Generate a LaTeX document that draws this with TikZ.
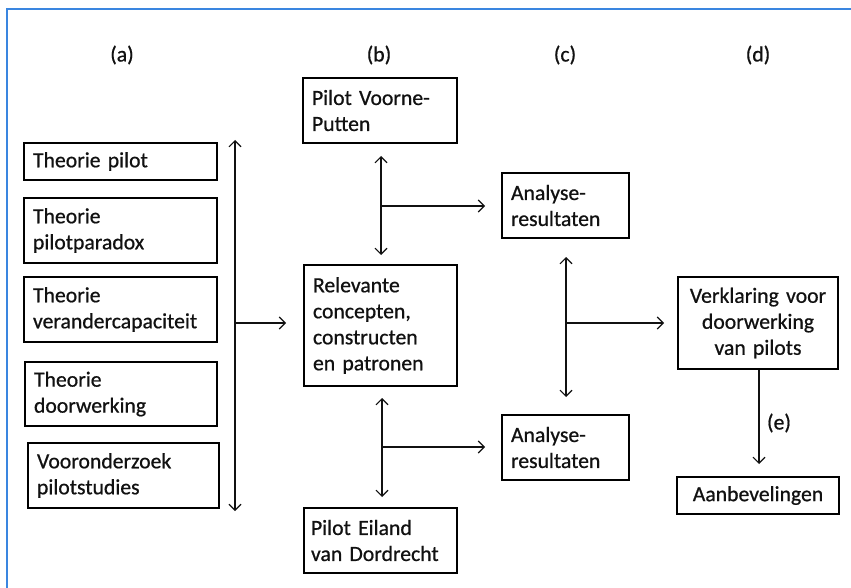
\documentclass[tikz,border=0pt]{standalone}
\usepackage{fontspec}
\setmainfont{Carlito}[BoldFont=Carlito, BoldFeatures={FakeBold=0.7}]
\usetikzlibrary{arrows.meta}
\definecolor{frameblue}{HTML}{3A86E0}
\definecolor{ink}{HTML}{111111}
\tikzset{
  box/.style={draw=black, line width=2pt, inner xsep=10pt, inner ysep=0pt,
    align=left, text=ink, font=\fontsize{21.7}{26}\selectfont\bfseries},
  cbox/.style={box, align=center},
  lbl/.style={text=ink, font=\fontsize{21.7}{26}\selectfont\bfseries, inner sep=0pt},
  tipb/.tip={Straight Barb[length=6pt,width=12pt,line width=1.1pt]},
  arr/.style={line width=1.1pt, draw=ink, -tipb},
  darr/.style={line width=1.1pt, draw=ink, tipb-tipb},
}
\begin{document}
\begin{tikzpicture}[x=1pt,y=-1pt]
\useasboundingbox (0,0) rectangle (851,588);
\fill[white] (0,0) rectangle (851,588);
% frame lines along the top and left edges
\draw[frameblue, line width=2pt] (7,588) -- (7,9) -- (851,9);

% column labels
\node[lbl] (la) at (122,55) {(a)};
\node[lbl] (lb) at (379,55) {(b)};
\node[lbl] (lc) at (565,55) {(c)};
\node[lbl] (ld) at (758,55) {(d)};

% column (a): theory boxes
\node[box, minimum width=193, minimum height=37, text width=175, inner xsep=9pt] (t1) at (120.5,161.5) {Theorie pilot};
\node[box, minimum width=193, minimum height=65, text width=175, inner xsep=9pt] (t2) at (120.5,230.5) {Theorie\\pilotparadox};
\node[box, minimum width=193, minimum height=65, text width=175, inner xsep=9pt] (t3) at (120.5,309.5) {Theorie\\verandercapaciteit};
\node[box, minimum width=192, minimum height=64, text width=174, inner xsep=9pt] (t4) at (121,394) {Theorie\\doorwerking};
\node[box, minimum width=191, minimum height=65, text width=173, inner xsep=9pt] (t5) at (123.5,475.5) {Vooronderzoek\\pilotstudies};

% column (b)
\node[box, minimum width=154, minimum height=65, text width=136, inner xsep=9pt] (pv) at (380,110.5) {Pilot Voorne-\\Putten};
\node[box, minimum width=153, minimum height=121, text width=135, inner xsep=9pt] (rel) at (380.5,325.5) {Relevante\\concepten,\\constructen\\en patronen};
\node[box, minimum width=153, minimum height=65, text width=139, inner xsep=7pt] (pe) at (380.5,540.5) {Pilot Eiland\\van Dordrecht};

% column (c)
\node[box, minimum width=127, minimum height=65, text width=109, inner xsep=9pt] (an1) at (565.5,205.5) {Analyse-\\resultaten};
\node[box, minimum width=127, minimum height=65, text width=109, inner xsep=9pt] (an2) at (565.5,447.5) {Analyse-\\resultaten};

% column (d)
\node[cbox, minimum width=160, minimum height=92, text width=148, inner xsep=6pt] (ver) at (758,323) {Verklaring voor\\doorwerking\\van pilots};
\node[cbox, minimum width=162, minimum height=37, text width=150, inner xsep=6pt] (aan) at (758,495.5) {Aanbevelingen};
\node[lbl] (le) at (779,423) {(e)};

% connector ends
\coordinate (aTop) at (235,140);
\coordinate (aBot) at (235,511);
\coordinate (aMid) at (235,323);
\coordinate (b1Top) at (381,156);
\coordinate (b1Bot) at (381,255);
\coordinate (b1Mid) at (381,206);
\coordinate (b2Top) at (382,398);
\coordinate (b2Bot) at (382,497);
\coordinate (b2Mid) at (382,447);
\coordinate (cTop) at (566,257);
\coordinate (cBot) at (566,397);
\coordinate (cMid) at (566,323);

% connectors
\draw[darr] (aBot) -- (aTop);
\draw[arr] (aMid) -- ([xshift=-17pt]rel.west |- aMid);

\draw[darr] (b1Bot) -- (b1Top);
\draw[arr] (b1Mid) -- ([xshift=-16pt]an1.west |- b1Mid);

\draw[darr] (b2Bot) -- (b2Top);
\draw[arr] (b2Mid) -- ([xshift=-16pt]an2.west |- b2Mid);

\draw[darr] (cBot) -- (cTop);
\draw[arr] (cMid) -- ([xshift=-13pt]ver.west |- cMid);

\draw[arr] (ver.south -| 759,0) -- ([yshift=12pt]aan.north -| 759,0);
\end{tikzpicture}
\end{document}
